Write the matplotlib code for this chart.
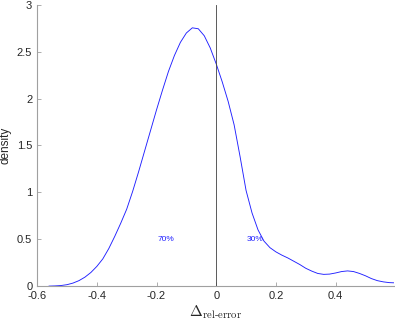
import matplotlib
matplotlib.use('Agg')
import matplotlib.pyplot as plt

plt.rcParams['font.family'] = ['Liberation Sans', 'DejaVu Sans']
plt.rcParams['mathtext.fontset'] = 'cm'

# density curve
x = [-0.56, -0.54, -0.52, -0.50, -0.48, -0.46, -0.44, -0.42, -0.40, -0.38,
     -0.36, -0.34, -0.32, -0.30, -0.28, -0.26, -0.24, -0.22, -0.20, -0.18,
     -0.16, -0.14, -0.12, -0.10, -0.08, -0.06, -0.04, -0.02, 0.00, 0.02,
     0.04, 0.06, 0.08, 0.10, 0.12, 0.14, 0.16, 0.18, 0.20, 0.22,
     0.24, 0.26, 0.28, 0.30, 0.32, 0.34, 0.36, 0.38, 0.40, 0.42,
     0.44, 0.46, 0.48, 0.50, 0.52, 0.54, 0.56, 0.58, 0.595]
density = [0.0, 0.002, 0.006, 0.015, 0.032, 0.058, 0.095, 0.145, 0.21, 0.29,
           0.40, 0.53, 0.67, 0.82, 1.01, 1.22, 1.44, 1.66, 1.88, 2.09,
           2.29, 2.46, 2.60, 2.70, 2.755, 2.745, 2.67, 2.54, 2.37, 2.18,
           1.97, 1.72, 1.38, 1.02, 0.78, 0.60, 0.48, 0.41, 0.365, 0.33,
           0.30, 0.265, 0.23, 0.19, 0.16, 0.135, 0.125, 0.128, 0.14, 0.155,
           0.162, 0.155, 0.135, 0.11, 0.08, 0.058, 0.045, 0.037, 0.035]

xticks = [-0.6, -0.4, -0.2, 0, 0.2, 0.4]
xticklabels = ['-0.6', '-0.4', '-0.2', '0', '0.2', '0.4']
yticks = [0, 0.5, 1, 1.5, 2, 2.5, 3]
yticklabels = ['0', '0.5', '1', '1.5', '2', '2.5', '3']
share_labels = ['70%', '30%']
share_pos = [(-0.17, 0.5), (0.13, 0.5)]

fig = plt.figure(figsize=(3.95, 3.24), dpi=100)
ax = fig.add_axes([0.094, 0.117, 0.903, 0.868])

ax.plot(x, density, color='#2020ff', lw=0.65)
ax.plot([0, 0], [0, 3], color='#404040', lw=0.6)

for lab, (px, py) in zip(share_labels, share_pos):
    ax.text(px, py, lab, color='#2020ff', fontsize=6, ha='center', va='center')

ax.set_xlim(-0.6, 0.595)
ax.set_ylim(0, 3)
ax.set_xticks(xticks)
ax.set_xticklabels(xticklabels)
ax.set_yticks(yticks)
ax.set_yticklabels(yticklabels)

for side in ['top', 'right']:
    ax.spines[side].set_visible(False)
for side in ['left', 'bottom']:
    ax.spines[side].set_color('#a0a0a0')
    ax.spines[side].set_linewidth(0.8)
ax.tick_params(direction='in', length=3, width=0.6, color='#a0a0a0',
               labelsize=8, labelcolor='#262626')

ax.set_ylabel('density', fontsize=8.5, color='#262626', labelpad=4)
ax.set_xlabel(r'$\Delta_{\mathrm{rel}\text{-}\mathrm{error}}$', fontsize=11,
              color='#262626', labelpad=2)

fig.savefig('out.png', dpi=100)
